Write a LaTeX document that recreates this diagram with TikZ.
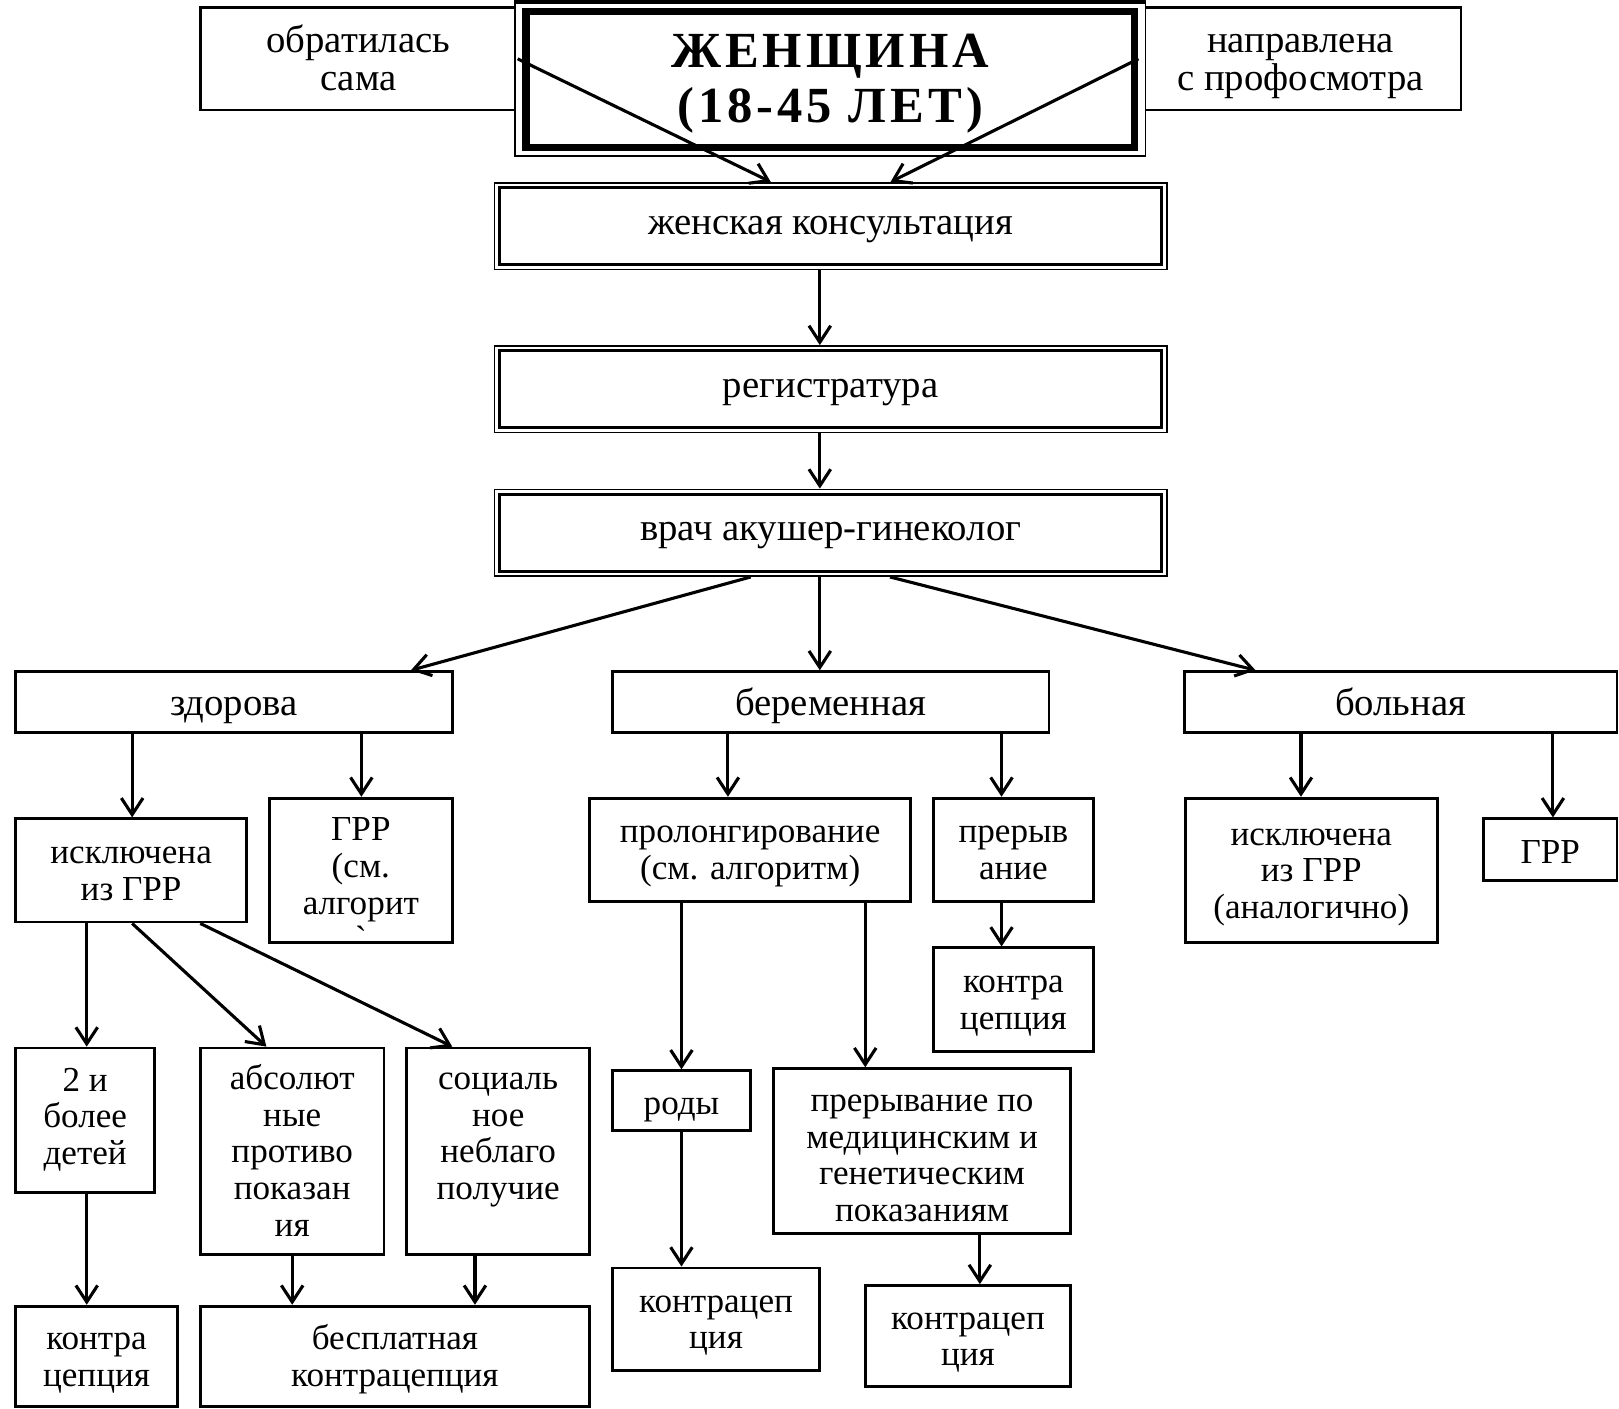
\documentclass[tikz,border=0pt]{standalone}
\usepackage{fontspec}
\setmainfont{Liberation Serif}
\newfontfamily\plainserif{Liberation Serif}
\usetikzlibrary{arrows.meta,calc}
\newcommand\myLR{\rule{0pt}{33pt}}
\newcommand\myUR{\rule{0pt}{36pt}}
\begin{document}
\begin{tikzpicture}[x=1pt,y=-1pt,
  lowfont/.style={font=\fontsize{34}{35.5}\selectfont,
    execute at begin node={\rule{0pt}{36.85pt}},
    execute at end node={\rule[-10.65pt]{0pt}{10.65pt}}},
  upfont/.style={font=\fontsize{37.5}{37}\selectfont,
    execute at begin node={\rule{0pt}{37.9pt}},
    execute at end node={\rule[-11.1pt]{0pt}{11.1pt}}},
  box/.style={draw, line width=2.7pt, inner sep=0pt, align=center, fill=white, lowfont},
  ubox/.style={draw, line width=2.7pt, inner sep=0pt, align=center, fill=white, upfont},
  dbox/.style={draw, line width=1.6pt, inner sep=0pt, minimum width=651pt, minimum height=84pt,
    align=center, font=\fontsize{37.5}{37}\selectfont,
    execute at begin node={\rule{0pt}{26.5pt}},
    execute at end node={\rule[-11.1pt]{0pt}{11.1pt}}},
  inner/.style={line width=3pt},
  txt/.style={inner sep=0pt, align=center, lowfont},
  arr/.style={line width=3pt, -{Straight Barb[length=16pt,width=21pt]}},
]
\useasboundingbox (0,0) rectangle (1568,1364);

% top row
\node[ubox, minimum width=306pt, minimum height=99pt] (obr) at (347,57) {\myUR обратилась\\сама};
\node[ubox, minimum width=311pt, minimum height=99pt] (napr) at (1259.5,57) {\myUR направлена\\с профосмотра};
\node[draw, fill=white, line width=1.6pt, minimum width=611pt, minimum height=149pt, inner sep=0pt] (titleout) at (804,76.5) {};
\draw[line width=4.5pt] (titleout.north west) -- (titleout.north east);
\node[draw, line width=7pt, minimum width=589pt, minimum height=131pt, inner sep=0pt, align=center,
  font=\fontsize{49}{53}\selectfont\bfseries\addfontfeature{LetterSpace=8},
  execute at end node={\rule[-15.9pt]{0pt}{15.9pt}}] (title) at (804,77)
  {\rule{0pt}{45.4pt}ЖЕНЩИНА\\(18-45 ЛЕТ)};

% main column (double-framed boxes)
\node[dbox] (zk) at (804.5,219) {женская консультация};
\draw[inner] ([shift={(5.5,5.5)}]zk.north west) rectangle ([shift={(-5.5,-5.5)}]zk.south east);
\node[dbox] (reg) at (804.5,377) {регистратура};
\draw[inner] ([shift={(5.5,5.5)}]reg.north west) rectangle ([shift={(-5.5,-5.5)}]reg.south east);
\node[dbox] (vrach) at (804.5,516) {врач акушер-гинеколог};
\draw[inner] ([shift={(5.5,5.5)}]vrach.north west) rectangle ([shift={(-5.5,-5.5)}]vrach.south east);

% second level
\node[ubox, minimum width=423pt, minimum height=59pt] (zdor) at (226.5,680) {здорова};
\node[ubox, minimum width=423pt, minimum height=59pt] (ber) at (804.5,680) {беременная};
\node[ubox, minimum width=419pt, minimum height=59pt] (bol) at (1356.5,680) {больная};

% under здорова
\node[box, minimum width=224pt, minimum height=100pt] (iskl) at (127,843) {\myLR исключена\\из ГРР};
\node[box, minimum width=177pt, minimum height=140pt] (grr1) at (349.5,843) {};
\node[txt, anchor=north] (grr1t) at (349.5,781) {\myLR ГРР\\(см.\\алгорит\\{\plainserif `}};

% under беременная
\node[box, minimum width=311pt, minimum height=100pt] (prol) at (726.5,823) {\myLR пролонгирование\\(см. алгоритм)};
\node[box, minimum width=155pt, minimum height=100pt] (prer) at (981.5,823) {\myLR прерыв\\ание};
\node[box, minimum width=155pt, minimum height=100pt] (kc1) at (981.5,968) {\myLR контра\\цепция};
\node[box, minimum width=134pt, minimum height=58pt] (rody) at (660,1066) {роды};
\node[box, minimum width=288pt, minimum height=160pt,
  execute at end node={\rule[-4.65pt]{0pt}{4.65pt}}] (prmed) at (893,1115)
  {\rule{0pt}{40pt}прерывание по\\медицинским и\\генетическим\\показаниям};
\node[box, minimum width=201pt, minimum height=99pt] (kc2) at (693.5,1277.5) {\myLR контрацеп\\ция};
\node[box, minimum width=199pt, minimum height=98pt] (kc3) at (937.5,1294) {\myLR контрацеп\\ция};

% under больная
\node[box, minimum width=244pt, minimum height=140pt] (isk2) at (1270,843) {\myLR исключена\\из ГРР\\(аналогично)};
\node[box, minimum width=129pt, minimum height=60pt] (grr2) at (1501.5,823) {ГРР};

% under исключена из ГРР
\node[box, minimum width=135pt, minimum height=140pt] (deti) at (82.5,1085) {\rule{0pt}{25pt}2 и\\более\\детей};
\node[box, minimum width=178pt, minimum height=200pt] (abs) at (283,1115) {\myLR абсолют\\ные\\противо\\показан\\ия};
\node[box, minimum width=177pt, minimum height=200pt] (soc) at (482.5,1115) {\myLR социаль\\ное\\неблаго\\получие\\};
\node[box, minimum width=157pt, minimum height=97pt] (kc4) at (93.5,1313.5) {\myLR контра\\цепция};
\node[box, minimum width=377pt, minimum height=97pt] (besp) at (382.5,1313.5) {\myLR бесплатная\\контрацепция};

% connectors
\draw[arr] (obr.east) -- ([xshift=-58pt]zk.north);
\draw[arr] (napr.west) -- ([xshift=58pt]zk.north);
\draw[arr] (zk.south -| 794,0) -- (reg.north -| 794,0);
\draw[arr] (reg.south -| 794,0) -- (vrach.north -| 794,0);
\draw[arr] (vrach.south -| 727,0) -- (zdor.north -| 398,0);
\draw[arr] (vrach.south -| 794,0) -- (ber.north -| 794,0);
\draw[arr] (vrach.south -| 862,0) -- (bol.north -| 1216,0);
\draw[arr] (zdor.south -| 128,0) -- (iskl.north -| 128,0);
\draw[arr] (zdor.south -| 350,0) -- (grr1.north -| 350,0);
\draw[arr] (ber.south -| 705,0) -- (prol.north -| 705,0);
\draw[arr] (ber.south -| 970,0) -- (prer.north -| 970,0);
\draw[arr] (prer.south -| 970,0) -- (kc1.north -| 970,0);
\draw[arr] (prol.south -| 660,0) -- (rody.north -| 660,0);
\draw[arr] (prol.south -| 838,0) -- (prmed.north -| 838,0);
\draw[arr] (rody.south -| 660,0) -- (kc2.north -| 660,0);
\draw[arr] (prmed.south -| 949,0) -- (kc3.north -| 949,0);
\draw[arr] (bol.south -| 1260,0) -- (isk2.north -| 1260,0);
\draw[arr] (bol.south -| 1504,0) -- (grr2.north -| 1504,0);
\draw[arr] (iskl.south -| 84,0) -- (deti.north -| 84,0);
\draw[arr] (iskl.south -| 128,0) -- (abs.north -| 258,0);
\draw[arr] (iskl.south -| 194,0) -- (soc.north -| 438,0);
\draw[arr] (deti.south -| 84,0) -- (kc4.north -| 84,0);
\draw[arr] (abs.south -| 283,0) -- (besp.north -| 283,0);
\draw[arr] (soc.south -| 460,0) -- (besp.north -| 460,0);
\end{tikzpicture}
\end{document}
